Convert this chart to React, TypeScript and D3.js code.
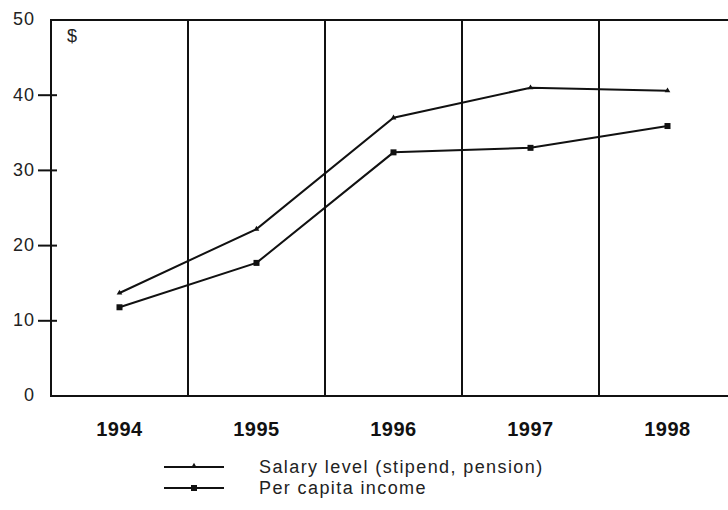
import { useEffect, useRef } from "react";
import * as d3 from "d3";

// chart data
const years = ["1994", "1995", "1996", "1997", "1998"];
const salary = [13.7, 22.2, 37.0, 41.0, 40.6];
const perCapita = [11.8, 17.7, 32.4, 33.0, 35.9];
const yTicks = [0, 10, 20, 30, 40, 50];
const seriesNames = ["Salary level (stipend, pension)", "Per capita income"];

const W = 728;
const H = 510;

export default function App() {
    const svgRef = useRef<SVGSVGElement | null>(null);

    useEffect(() => {
        const svg = d3.select(svgRef.current);
        svg.selectAll("*").remove();

        const margin = { top: 20, left: 51, bottom: 396, right: 736 };
        const font = "Arial, 'Liberation Sans', sans-serif";

        const x = d3.scaleBand<string>()
            .domain(years)
            .range([margin.left, margin.right])
            .padding(0);

        const y = d3.scaleLinear()
            .domain([0, 50])
            .range([margin.bottom, margin.top]);

        const cx = (d: string) => (x(d) ?? 0) + x.bandwidth() / 2;

        // frame
        svg.append("path")
            .attr("d", `M${margin.right},${margin.top}H${margin.left}V${margin.bottom}H${margin.right}`)
            .attr("fill", "none")
            .attr("stroke", "#111")
            .attr("stroke-width", 2);

        // vertical separators between years
        svg.append("g")
            .selectAll("line")
            .data(years.slice(1))
            .join("line")
            .attr("x1", (d) => x(d) ?? 0)
            .attr("x2", (d) => x(d) ?? 0)
            .attr("y1", margin.top)
            .attr("y2", margin.bottom)
            .attr("stroke", "#111")
            .attr("stroke-width", 2);

        // y axis ticks and labels
        const yAxis = svg.append("g");
        yAxis.selectAll("line")
            .data(yTicks.filter((t) => t > 0 && t < 50))
            .join("line")
            .attr("x1", margin.left - 13)
            .attr("x2", margin.left + 6)
            .attr("y1", (d) => y(d))
            .attr("y2", (d) => y(d))
            .attr("stroke", "#111")
            .attr("stroke-width", 2);
        yAxis.selectAll("text")
            .data(yTicks)
            .join("text")
            .attr("x", margin.left - 16)
            .attr("y", (d) => y(d) - 1)
            .attr("dy", "0.35em")
            .attr("text-anchor", "end")
            .attr("font-family", font)
            .attr("font-size", 18)
            .attr("letter-spacing", 1)
            .attr("fill", "#222")
            .text((d) => d);

        svg.append("text")
            .attr("x", 67)
            .attr("y", 42)
            .attr("font-family", font)
            .attr("font-size", 18)
            .attr("fill", "#222")
            .text("$");

        // x labels
        svg.append("g")
            .selectAll("text")
            .data(years)
            .join("text")
            .attr("x", (d) => cx(d))
            .attr("y", 436)
            .attr("text-anchor", "middle")
            .attr("font-family", font)
            .attr("font-weight", "bold")
            .attr("font-size", 20)
            .attr("letter-spacing", 0.5)
            .attr("fill", "#111")
            .text((d) => d);

        const line = d3.line<number>()
            .x((d, i) => cx(years[i]))
            .y((d) => y(d));

        const tri = d3.symbol().type(d3.symbolTriangle).size(14);

        [salary, perCapita].forEach((vals, si) => {
            svg.append("path")
                .datum(vals)
                .attr("fill", "none")
                .attr("stroke", "#111")
                .attr("stroke-width", 2)
                .attr("d", line);

            const g = svg.append("g");
            if (si === 0) {
                g.selectAll("path")
                    .data(vals)
                    .join("path")
                    .attr("transform", (d, i) => `translate(${cx(years[i])},${y(d)})`)
                    .attr("d", tri)
                    .attr("fill", "#111");
            } else {
                g.selectAll("rect")
                    .data(vals)
                    .join("rect")
                    .attr("x", (d, i) => cx(years[i]) - 3)
                    .attr("y", (d) => y(d) - 3)
                    .attr("width", 6)
                    .attr("height", 6)
                    .attr("fill", "#111");
            }
        });

        // legend
        const legend = svg.append("g");
        seriesNames.forEach((name, i) => {
            const ly = 467 + i * 21;
            legend.append("line")
                .attr("x1", 164)
                .attr("x2", 224)
                .attr("y1", ly)
                .attr("y2", ly)
                .attr("stroke", "#111")
                .attr("stroke-width", 2);
            if (i === 0) {
                legend.append("path")
                    .attr("transform", `translate(194,${ly - 1})`)
                    .attr("d", tri)
                    .attr("fill", "#111");
            } else {
                legend.append("rect")
                    .attr("x", 191)
                    .attr("y", ly - 3)
                    .attr("width", 6)
                    .attr("height", 6)
                    .attr("fill", "#111");
            }
            legend.append("text")
                .attr("x", 259)
                .attr("y", ly)
                .attr("dy", "0.35em")
                .attr("font-family", font)
                .attr("font-size", 18)
                .attr("letter-spacing", 1.4)
                .attr("fill", "#222")
                .text(name);
        });
    }, []);

    return (
        <svg
            ref={svgRef}
            width={W}
            height={H}
            style={{ position: "absolute", left: 0, top: 0, background: "#fff" }}
        />
    );
}
